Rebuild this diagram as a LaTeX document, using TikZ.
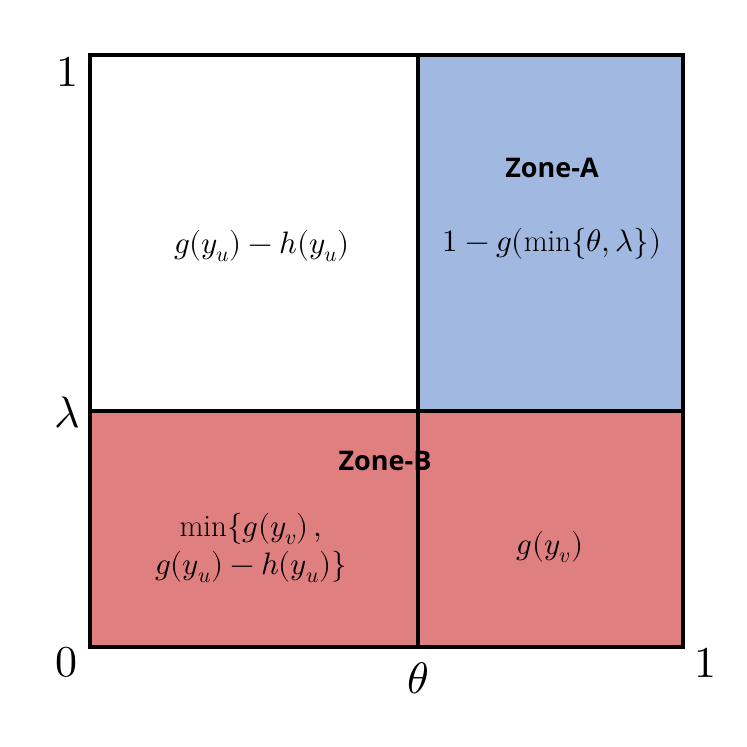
\documentclass[tikz,border=0pt]{standalone}
\usepackage{fontspec}
\usepackage{unicode-math}
\setmathfont{Latin Modern Math}
\newfontfamily\zonefont{Open Sans}
\definecolor{zoneblue}{HTML}{A1B9E1}
\definecolor{zonered}{HTML}{E07F7F}
\begin{document}
\begin{tikzpicture}[x=1pt,y=-1pt,
  edge/.style={line width=3.2pt,line cap=rect},
  ax/.style={font=\fontsize{44}{48}\selectfont},
  mth/.style={font=\fontsize{31}{38}\selectfont,align=center},
  zone/.style={font=\zonefont\bfseries\fontsize{27}{30}\selectfont}]
\useasboundingbox (0,0) rectangle (747,747);
\coordinate (tl) at (90,55);
\coordinate (br) at (683,647);
\fill[zoneblue] (418,55) rectangle (683,411);
\fill[zonered] (90,411) rectangle (683,647);
\draw[edge] (tl) rectangle (br);
\coordinate (vt) at (418,55);
\coordinate (vb) at (418,647);
\coordinate (hl) at (90,411);
\coordinate (hr) at (683,411);
\draw[edge] (vt) -- (vb);
\draw[edge] (hl) -- (hr);
\node[ax] (one) at (67,72) {$1$};
\node[ax] (lam) at (67,413) {$\lambda$};
\node[ax] (zero) at (66,662) {$0$};
\node[ax] (theta) at (418,678) {$\theta$};
\node[ax] (onex) at (705,663) {$1$};
\node[mth] (w) at (262,246) {$g(y_u)-h(y_u)$};
\node[zone] (za) at (552,168) {Zone-A};
\node[mth] (a) at (552,244) {$1-g(\min\{\theta,\lambda\})$};
\node[zone] (zb) at (385,461) {Zone-B};
\node[mth] (b) at (251,548) {$\min\{g(y_v)\,,$\\$g(y_u)-h(y_u)\}$};
\node[mth] (c) at (550,547) {$g(y_v)$};
\end{tikzpicture}
\end{document}
